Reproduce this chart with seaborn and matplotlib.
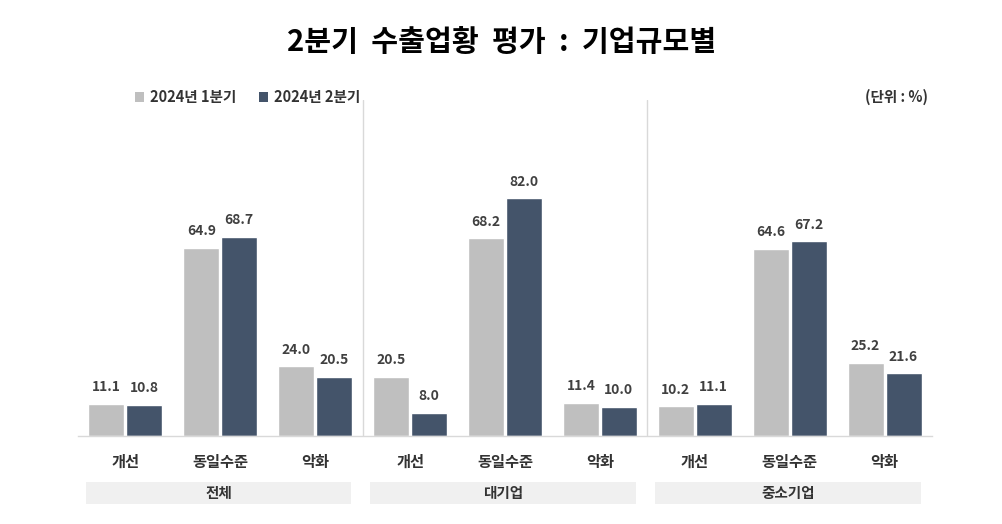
import matplotlib
matplotlib.use("Agg")
import matplotlib.pyplot as plt
import matplotlib.transforms as mtransforms
from matplotlib.patches import Rectangle, Patch
import seaborn as sns
import pandas as pd

# ---- data ----
groups = ["전체", "대기업", "중소기업"]
categories = ["개선", "동일수준", "악화"]
series = ["2024년 1분기", "2024년 2분기"]
q1 = [11.1, 64.9, 24.0, 20.5, 68.2, 11.4, 10.2, 64.6, 25.2]
q2 = [10.8, 68.7, 20.5, 8.0, 82.0, 10.0, 11.1, 67.2, 21.6]
title = "2분기  수출업황  평가  :  기업규모별"
unit_text = "(단위 : %)"

sns.set_theme(style="white")
plt.rcParams["font.family"] = ["Noto Sans CJK KR", "DejaVu Sans"]

rows = []
keys = []
for gi, g in enumerate(groups):
    for ci, c in enumerate(categories):
        k = f"{g}-{c}"
        keys.append(k)
        idx = gi * len(categories) + ci
        rows.append({"key": k, "series": series[0], "value": q1[idx]})
        rows.append({"key": k, "series": series[1], "value": q2[idx]})
df = pd.DataFrame(rows)

colors = ["#bfbfbf", "#44546a"]

fig = plt.figure(figsize=(10.03, 5.24), dpi=100)
W, H = 1003, 524
ax_left, ax_right, ax_top, ax_bottom = 78, 932, 100, 436
ax = fig.add_axes([ax_left / W, 1 - ax_bottom / H, (ax_right - ax_left) / W, (ax_bottom - ax_top) / H])

sns.barplot(data=df, x="key", y="value", hue="series", order=keys, hue_order=series,
            palette=colors, width=0.8, gap=0.05, ax=ax, legend=False, saturation=1)

ax.set_xlim(-0.5, len(keys) - 0.5)
ax.set_ylim(0, 116)
ax.set_xlabel("")
ax.set_ylabel("")
ax.set_yticks([])
ax.set_xticks([])
for s in ["top", "left", "right"]:
    ax.spines[s].set_visible(False)
ax.spines["bottom"].set_color("#d9d9d9")
ax.spines["bottom"].set_linewidth(1.0)

for cont in ax.containers:
    ax.bar_label(cont, fmt="%.1f", padding=7, fontsize=10, color="#404040", fontweight="bold")

# dividers between groups
for gi in range(1, len(groups)):
    ax.axvline(gi * len(categories) - 0.5, color="#d9d9d9", lw=1.0, ymin=0, ymax=1)

trans = mtransforms.blended_transform_factory(ax.transData, ax.transAxes)
# category labels
for i, k in enumerate(keys):
    ax.text(i, -0.077, k.split("-")[1], transform=trans, ha="center", va="center",
            fontsize=11, fontweight="bold", color="#333333")
# group labels with boxes
n = len(categories)
for gi, g in enumerate(groups):
    x0 = gi * n - 0.5 + 0.08
    x1 = gi * n + n - 0.5 - 0.12
    ax.add_patch(Rectangle((x0, -0.202), x1 - x0, 0.065, transform=trans,
                           facecolor="#f0f0f0", edgecolor="none", clip_on=False))
    ax.text((x0 + x1) / 2, -0.17, g, transform=trans, ha="center", va="center",
            fontsize=10.5, fontweight="bold", color="#333333")

# legend
handles = [Patch(facecolor=c, edgecolor="none") for c in colors]
fig.legend(handles, series, ncol=2, loc="center left",
           bbox_to_anchor=(122 / W, 1 - 97 / H), frameon=False,
           handlelength=0.6, handleheight=0.75, handletextpad=0.4, columnspacing=1.6,
           prop={"size": 10.5, "weight": "bold"}, labelcolor="#333333")

fig.text(928 / W, 1 - 97 / H, unit_text, ha="right", va="center", fontsize=10.5,
         fontweight="bold", color="#333333")
fig.text(0.5, 1 - 42 / H, title, ha="center", va="center", fontsize=21,
         fontweight="bold", color="black")

fig.savefig("out.png", dpi=100, facecolor="white")
